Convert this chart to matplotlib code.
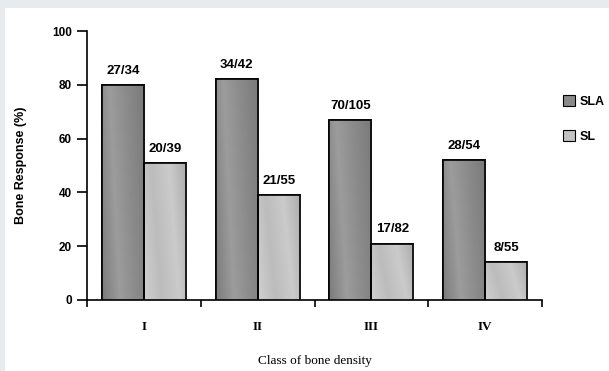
import numpy as np
import matplotlib
matplotlib.use("Agg")
import matplotlib.pyplot as plt
from matplotlib.patches import Rectangle, Patch
from matplotlib.colors import LinearSegmentedColormap

categories = ["I", "II", "III", "IV"]
sla_values = [80, 82, 67, 52]
sl_values = [51, 39, 21, 14]
sla_labels = ["27/34", "34/42", "70/105", "28/54"]
sl_labels = ["20/39", "21/55", "17/82", "8/55"]
series_names = ["SLA", "SL"]
yticks = [0, 20, 40, 60, 80, 100]

W, H = 609, 371
fig = plt.figure(figsize=(W / 100, H / 100), dpi=100)
fig.patch.set_facecolor("#e8ebed")
bg = Rectangle((5 / W, 0), 1 - 5 / W, 1 - 8 / H, transform=fig.transFigure,
               facecolor="white", edgecolor="none", zorder=-10)
fig.add_artist(bg)

ax = fig.add_axes([87 / W, (H - 300) / H, (542 - 87) / W, (300 - 31) / H])
ax.set_zorder(1)
ax.set_facecolor("none")

x = np.arange(len(categories))
bw = 0.37
sla_bars = ax.bar(x - bw / 2, sla_values, bw, color="#8a8a8a", edgecolor="black", linewidth=1.2, zorder=3)
sl_bars = ax.bar(x + bw / 2, sl_values, bw, color="#c2c2c2", edgecolor="black", linewidth=1.2, zorder=3)

cm_dark = LinearSegmentedColormap.from_list("d", ["#7c7c7c", "#9c9c9c", "#8a8a8a", "#7a7a7a"])
cm_light = LinearSegmentedColormap.from_list("l", ["#d0d0d0", "#bcbcbc", "#cbcbcb", "#acacac"])

for bars, cmap in ((sla_bars, cm_dark), (sl_bars, cm_light)):
    for b in bars:
        x0, w, h = b.get_x(), b.get_width(), b.get_height()
        gx = np.linspace(0, 1, 64)
        gy = np.linspace(0, 1, 64)
        GX, GY = np.meshgrid(gx, gy)
        grad = (GX * 0.8 + GY * 0.2)
        im = ax.imshow(grad, cmap=cmap, extent=(x0, x0 + w, 0, h), origin="lower",
                       aspect="auto", zorder=3.5)
        im.set_clip_path(b)
        r = Rectangle((x0, 0), w, h, facecolor="none", edgecolor="black", linewidth=1.2, zorder=4)
        ax.add_patch(r)

for bars, labels in ((sla_bars, sla_labels), (sl_bars, sl_labels)):
    for b, lab in zip(bars, labels):
        ax.text(b.get_x() + b.get_width() / 2, b.get_height() + 3, lab, ha="center", va="bottom",
                fontsize=9.5, fontweight="bold", family="Liberation Sans", zorder=5)

ax.set_xlim(-0.5, len(categories) - 0.5)
ax.set_ylim(0, 100)
ax.set_yticks(yticks)
ax.set_yticklabels([str(v) for v in yticks], fontsize=8.5, fontweight="bold", family="Liberation Sans")
ax.set_xticks(x)
ax.set_xticklabels(categories, fontsize=9.5, fontweight="bold", family="Liberation Serif")
ax.set_xticks(np.arange(-0.5, len(categories)), minor=True)
ax.tick_params(axis="x", which="major", length=0, pad=15)
ax.tick_params(axis="x", which="minor", length=5, width=1.2, direction="out")
ax.tick_params(axis="y", length=7, width=1.2, direction="out", pad=4)
for s in ("top", "right"):
    ax.spines[s].set_visible(False)
for s in ("left", "bottom"):
    ax.spines[s].set_linewidth(1.2)

ax.set_ylabel("Bone Response (%)", fontsize=9, fontweight="bold", family="Liberation Sans", labelpad=18)
ax.set_xlabel("Class of bone density", fontsize=9.5, family="Liberation Serif", labelpad=16)

handles = [Patch(facecolor="#8a8a8a", edgecolor="black", linewidth=0.8),
           Patch(facecolor="#c2c2c2", edgecolor="black", linewidth=0.8)]
fig.legend(handles, series_names, loc="upper left", bbox_to_anchor=(552 / W, 1 - 84 / H),
           frameon=False, prop={"family": "Liberation Sans", "size": 9, "weight": "bold"},
           handlelength=0.9, handleheight=0.9, handletextpad=0.4, labelspacing=1.8)

fig.savefig("out.png", dpi=100)
